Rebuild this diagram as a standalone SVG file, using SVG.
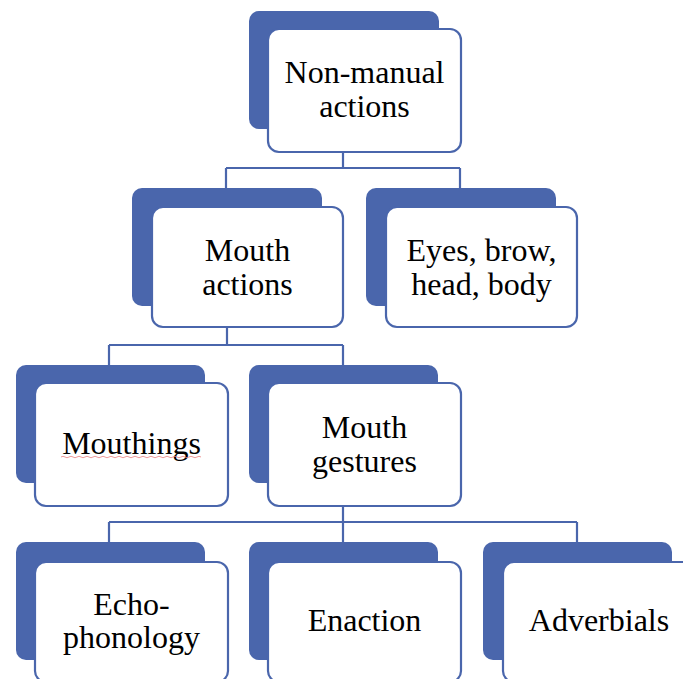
<svg xmlns="http://www.w3.org/2000/svg" width="683" height="679" viewBox="0 0 683 679">
<style>
.back{fill:#4a66ac;}
.front{fill:#ffffff;stroke:#4a66ac;stroke-width:2.2;}
.conn{fill:none;stroke:#4a66ac;stroke-width:2.2;}
.t{font-family:'Liberation Serif','Times New Roman',Times,serif;font-size:32px;fill:#000;text-anchor:middle;}
</style>
<rect width="683" height="679" fill="#ffffff"/>
<g id="connectors">
<path class="conn" d="M343,152 V168 M226,168 H460 M226,168 V188 M460,168 V188"/>
<path class="conn" d="M227,327 V345 M109,345 H343 M109,345 V365 M343,345 V365"/>
<path class="conn" d="M343,506 V522 M109,522 H577 M109,522 V542 M343,522 V542 M577,522 V542"/>
</g>
<g id="non-manual">
<rect class="back" x="249" y="11" width="190" height="118" rx="10"/>
<rect class="front" x="268" y="29" width="193" height="123" rx="11"/>
<text class="t" x="364.5" y="83">Non-manual</text>
<text class="t" x="364.5" y="117">actions</text>
</g>
<g id="mouth-actions">
<rect class="back" x="132" y="188" width="190" height="118" rx="10"/>
<rect class="front" x="152" y="207" width="191" height="120" rx="11"/>
<text class="t" x="247.5" y="261">Mouth</text>
<text class="t" x="247.5" y="295">actions</text>
</g>
<g id="eyes">
<rect class="back" x="366" y="188" width="190" height="118" rx="10"/>
<rect class="front" x="386" y="207" width="191" height="120" rx="11"/>
<text class="t" x="481.5" y="261">Eyes, brow,</text>
<text class="t" x="481.5" y="295">head, body</text>
</g>
<g id="mouthings">
<rect class="back" x="16" y="365" width="189" height="118" rx="10"/>
<rect class="front" x="35" y="383" width="193" height="123" rx="11"/>
<text class="t" x="131.5" y="454">Mouthings</text>
<path d="M61,457 q2,-1.5 4,0 t4,0 t4,0 t4,0 t4,0 t4,0 t4,0 t4,0 t4,0 t4,0 t4,0 t4,0 t4,0 t4,0 t4,0 t4,0 t4,0 t4,0 t4,0 t4,0 t4,0 t4,0 t4,0 t4,0 t4,0 t4,0 t4,0 t4,0 t4,0 t4,0 t4,0 t4,0 t4,0 t4,0 t4,0" fill="none" stroke="#e88080" stroke-width="0.8"/>
</g>
<g id="mouth-gestures">
<rect class="back" x="249" y="365" width="189" height="118" rx="10"/>
<rect class="front" x="268" y="383" width="193" height="123" rx="11"/>
<text class="t" x="364.5" y="438">Mouth</text>
<text class="t" x="364.5" y="472">gestures</text>
</g>
<g id="echo">
<rect class="back" x="16" y="542" width="189" height="118" rx="10"/>
<rect class="front" x="35" y="562" width="193" height="120" rx="11"/>
<text class="t" x="131.5" y="615">Echo-</text>
<text class="t" x="131.5" y="648">phonology</text>
</g>
<g id="enaction">
<rect class="back" x="249" y="542" width="189" height="118" rx="10"/>
<rect class="front" x="268" y="562" width="193" height="120" rx="11"/>
<text class="t" x="364.5" y="631">Enaction</text>
</g>
<g id="adverbials">
<rect class="back" x="483" y="542" width="189" height="118" rx="10"/>
<rect class="front" x="503" y="562" width="193" height="120" rx="11"/>
<text class="t" x="599" y="631">Adverbials</text>
</g>
</svg>
